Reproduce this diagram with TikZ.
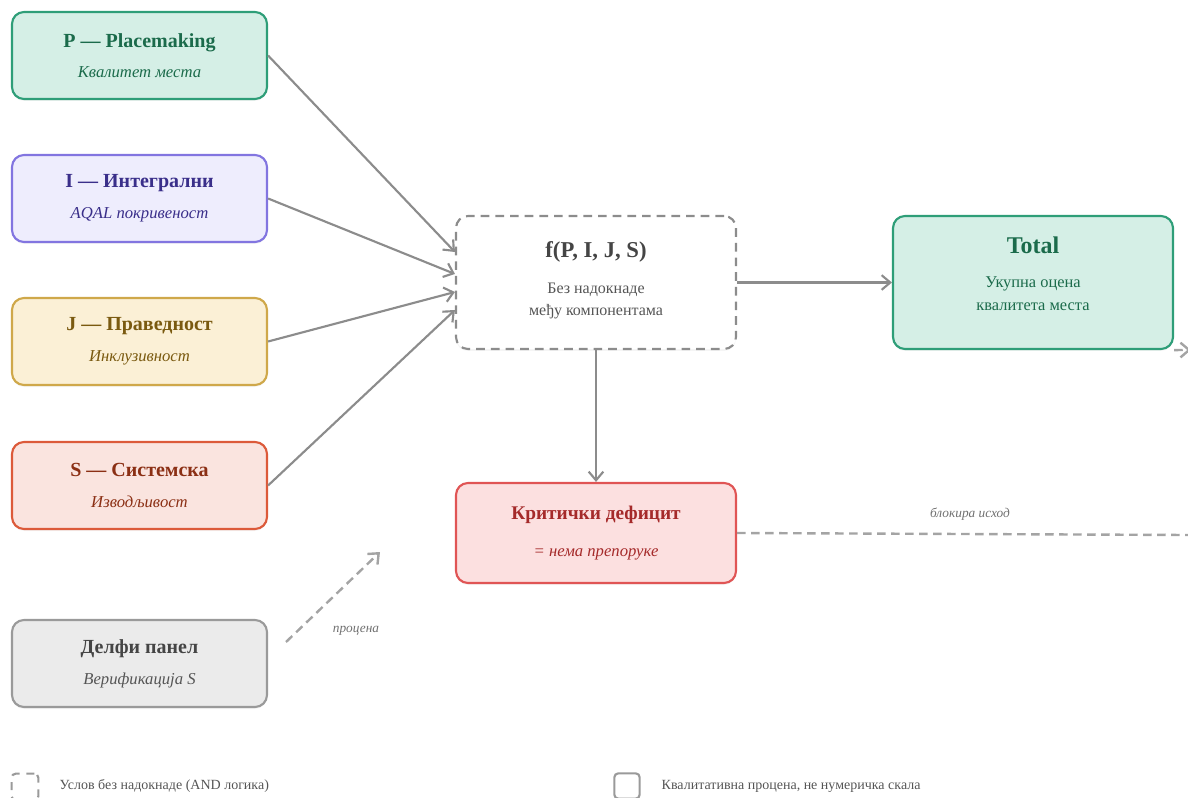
\documentclass[tikz,border=0pt]{standalone}
\usepackage{fontspec}
\setmainfont{Liberation Serif}
\usetikzlibrary{arrows.meta,calc,shadows}

\begin{document}
\begin{tikzpicture}[x=0.75pt,y=-0.75pt,
  comp/.style 2 args={draw=#1,fill=#2,rounded corners=9pt,line width=1.6pt,
    minimum width=191.25pt,minimum height=65.25pt,inner sep=0pt,align=center,
    font=\fontsize{12.5}{14}\selectfont,
    drop shadow={shadow xshift=0pt,shadow yshift=-1.5pt,opacity=0.08}},
  bigbox/.style={minimum width=210pt,minimum height=99.75pt},
  link/.style={draw=cline,line width=1.6pt,-{Straight Barb[length=6.5pt,width=11pt]}},
  dashlink/.style={link,draw=cdash,line width=1.8pt,dash pattern=on 6.5pt off 4pt},
  note/.style={text=cnote,font=\fontsize{10}{12}\selectfont\itshape},
  legtext/.style={text=clegend,font=\fontsize{10.5}{12}\selectfont,anchor=west}]
\definecolor{cgreen}{HTML}{2E9E78}     %border P, Total
\definecolor{cgreenf}{HTML}{D5EFE6}
\definecolor{cgreent}{HTML}{1B6B4B}
\definecolor{cpurple}{HTML}{8275E0}    %border I
\definecolor{cpurplef}{HTML}{EEEDFD}
\definecolor{cpurplet}{HTML}{3A2F8A}
\definecolor{cgold}{HTML}{CFA84A}      %border J
\definecolor{cgoldf}{HTML}{FBF0D6}
\definecolor{cgoldt}{HTML}{7A5A10}
\definecolor{corange}{HTML}{DC5A3A}    %border S
\definecolor{corangef}{HTML}{FAE4DF}
\definecolor{coranget}{HTML}{8B2F14}
\definecolor{cgray}{HTML}{9A9A9A}      %Delphi
\definecolor{cgrayf}{HTML}{EBEBEB}
\definecolor{cgrayt}{HTML}{454545}
\definecolor{cred}{HTML}{E05555}       %deficit
\definecolor{credf}{HTML}{FCE0E0}
\definecolor{credt}{HTML}{A52A2A}
\definecolor{cline}{HTML}{8C8C8C}
\definecolor{cdash}{HTML}{A4A4A4}
\definecolor{cnote}{HTML}{707070}
\definecolor{clegend}{HTML}{555555}
\useasboundingbox (0,0) rectangle (1188,798);

% components
\node[comp={cgreen}{cgreenf},text=cgreent] (place) at (139.5,55.5)
  {{\fontsize{15}{17}\selectfont\bfseries P — Placemaking}\\[9pt]{\itshape Квалитет места}};
\node[comp={cpurple}{cpurplef},text=cpurplet] (integral) at (139.5,198.5)
  {{\fontsize{15}{17}\selectfont\bfseries I — Интегрални}\\[9pt]{\itshape AQAL покривеност}};
\node[comp={cgold}{cgoldf},text=cgoldt] (equity) at (139.5,341.5)
  {{\fontsize{15}{17}\selectfont\bfseries J — Праведност}\\[9pt]{\itshape Инклузивност}};
\node[comp={corange}{corangef},text=coranget] (system) at (139.5,485.5)
  {{\fontsize{15}{17}\selectfont\bfseries S — Системска}\\[9pt]{\itshape Изводљивост}};
\node[comp={cgray}{cgrayf},text=cgrayt] (delphi) at (139.5,663.5)
  {{\fontsize{15}{17}\selectfont\bfseries Делфи панел}\\[9pt]{\itshape\color{clegend}Верификација S}};

% aggregation
\node[comp={cline}{white},bigbox,dash pattern=on 6.5pt off 4.5pt,drop shadow={opacity=0},
  text=cgrayt,font=\fontsize{12}{17}\selectfont,text depth=6pt] (fn) at (596,282.5)
  {{\fontsize{17}{20}\selectfont\bfseries f(P, I, J, S)}\\[10pt]{\color{clegend}Без надокнаде}\\{\color{clegend}међу компонентама}};
\node[comp={cgreen}{cgreenf},bigbox,text=cgreent,font=\fontsize{12.3}{17.5}\selectfont,
  text depth=13pt] (total) at (1033,282.5)
  {{\fontsize{18}{21}\selectfont\bfseries Total}\\[8pt]Укупна оцена\\квалитета места};
\node[comp={cred}{credf},bigbox,minimum height=75pt,text=credt] (deficit) at (596,533)
  {{\fontsize{14.5}{17}\selectfont\bfseries Критички дефицит}\\[14pt]{\itshape = нема препоруке}};

% connectors
\draw[link] (place.east) -- ($(fn.west)+(0,-30.5)$);
\draw[link] (integral.east) -- ($(fn.west)+(0,-8.5)$);
\draw[link] (equity.east) -- ($(fn.west)+(0,9.5)$);
\draw[link] (system.east) -- ($(fn.west)+(0,27.5)$);
\draw[link] (fn.east) -- (total.west);
\draw[link] (fn.south) -- (deficit.north);

\coordinate (probe) at (286,642);
\coordinate (probeend) at (380,552);
\draw[dashlink] (probe) -- (probeend);
\node[note] (probelbl) at (356,631) {процена};

\coordinate (blockend) at (1188,535);
\draw[dashlink,-] (deficit.east) -- (blockend);
\node[note] (blocklbl) at (970,514) {блокира исход};

\coordinate (totalout) at (1191,350);
\draw[dashlink] (total.south east) -- (totalout);

% legend
\node[draw=cgray,line width=1.6pt,dash pattern=on 6pt off 5pt,rounded corners=3pt,
  minimum size=20pt,inner sep=0pt] (legand) at (25,787) {};
\node[legtext] (legandtxt) at (55,786) {Услов без надокнаде (AND логика)};
\node[draw=cgray,line width=1.6pt,rounded corners=3pt,
  minimum size=19pt,inner sep=0pt] (legqual) at (627,786) {};
\node[legtext] (legqualtxt) at (657,786) {Квалитативна процена, не нумеричка скала};
\end{tikzpicture}
\end{document}
